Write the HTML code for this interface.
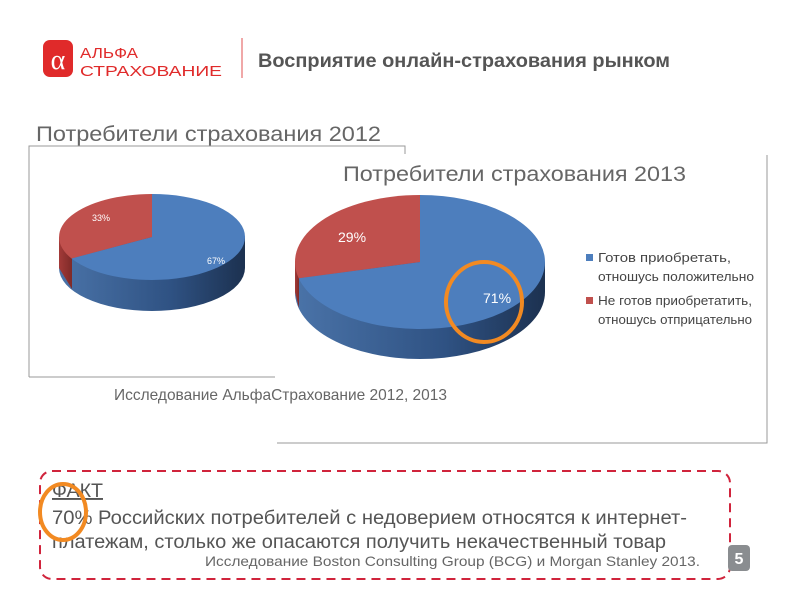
<!DOCTYPE html>
<html><head><meta charset="utf-8"><style>
body{margin:0;background:#fff;}
svg{display:block;font-family:"Liberation Sans","Noto Sans CJK SC",sans-serif;}
</style></head><body>
<svg width="800" height="600" viewBox="0 0 800 600">
<defs>
<linearGradient id="sb" x1="0" x2="1" y1="0" y2="0">
<stop offset="0" stop-color="#4a73a8"/><stop offset="0.6" stop-color="#2f5283"/><stop offset="1" stop-color="#1c3150"/></linearGradient>
<linearGradient id="sr" x1="0" x2="1"><stop offset="0" stop-color="#a33a38"/><stop offset="1" stop-color="#7e2a28"/></linearGradient>
</defs>
<!-- logo -->
<rect x="43" y="40" width="30" height="37" rx="7" fill="#e02a2a"/>
<text x="58" y="69" font-size="28" fill="#fff" text-anchor="middle" font-family="Liberation Serif,serif">α</text>
<text x="80" y="58" font-size="15" fill="#e02a2a" textLength="58" lengthAdjust="spacingAndGlyphs">АЛЬФА</text>
<text x="80" y="76" font-size="15" fill="#e02a2a" textLength="142" lengthAdjust="spacingAndGlyphs">СТРАХОВАНИЕ</text>
<line x1="242" y1="38" x2="242" y2="78" stroke="#e05050" stroke-width="1"/>
<text x="258" y="67" font-size="19" font-weight="bold" fill="#555" textLength="412" lengthAdjust="spacingAndGlyphs">Восприятие онлайн-страхования рынком</text>

<!-- frames -->
<path d="M29 377 V146 H405 V154" fill="none" stroke="#999" stroke-width="1"/>
<line x1="29" y1="377" x2="275" y2="377" stroke="#999"/>
<path d="M767 155 V443 H277" fill="none" stroke="#999"/>
<text x="36" y="141" font-size="21" fill="#666" textLength="345" lengthAdjust="spacingAndGlyphs">Потребители страхования 2012</text>
<text x="343" y="181" font-size="21" fill="#666" textLength="343" lengthAdjust="spacingAndGlyphs">Потребители страхования 2013</text>

<!-- pie 2012 -->
<path d="M59 237 V268 A93 43 0 0 0 245 268 V237 Z" fill="url(#sb)"/>
<path d="M59 237 V268 L72 289 V258 Z" fill="url(#sr)"/>
<path d="M152 237 L152 194 A93 43 0 1 1 71.5 258.5 Z" fill="#4d7ebd"/>
<path d="M152 237 L71.5 258.5 A93 43 0 0 1 152 194 Z" fill="#c0504d"/>
<text x="92" y="221" font-size="9" fill="#fff">33%</text>
<text x="207" y="264" font-size="9" fill="#fff">67%</text>

<!-- pie 2013 -->
<path d="M295 262 V292 A125 67 0 0 0 545 292 V262 Z" fill="url(#sb)"/>
<path d="M295 262 V292 L299 308 V278 Z" fill="url(#sr)"/>
<path d="M420 262 L420 195 A125 67 0 1 1 298.7 278.2 Z" fill="#4d7ebd"/>
<path d="M420 262 L298.7 278.2 A125 67 0 0 1 420 195 Z" fill="#c0504d"/>
<text x="338" y="242" font-size="14" fill="#fff">29%</text>
<text x="483" y="303" font-size="14" fill="#fff">71%</text>
<ellipse cx="484" cy="302" rx="38" ry="40" fill="none" stroke="#f28a22" stroke-width="4"/>

<!-- legend -->
<rect x="586" y="254" width="7" height="7" fill="#4d7ebd"/>
<text x="598" y="262" font-size="13" fill="#444" textLength="133" lengthAdjust="spacingAndGlyphs">Готов приобретать,</text>
<text x="598" y="281" font-size="13" fill="#444" textLength="156" lengthAdjust="spacingAndGlyphs">отношусь положительно</text>
<rect x="586" y="297" width="7" height="7" fill="#c0504d"/>
<text x="598" y="305" font-size="13" fill="#444" textLength="154" lengthAdjust="spacingAndGlyphs">Не готов приобретатить,</text>
<text x="598" y="324" font-size="13" fill="#444" textLength="154" lengthAdjust="spacingAndGlyphs">отношусь отприцательно</text>

<text x="114" y="400" font-size="16" fill="#666" textLength="333" lengthAdjust="spacingAndGlyphs">Исследование АльфаСтрахование 2012, 2013</text>

<!-- fact box -->
<rect x="40" y="471" width="690" height="108" rx="12" fill="none" stroke="#d0243c" stroke-width="2" stroke-dasharray="9 6"/>
<text x="52" y="497" font-size="19" fill="#555" text-decoration="underline" textLength="51" lengthAdjust="spacingAndGlyphs">ФАКТ</text>
<text x="52" y="524" font-size="19" fill="#555" textLength="635" lengthAdjust="spacingAndGlyphs">70% Российских потребителей  с недоверием относятся к интернет-</text>
<text x="52" y="548" font-size="19" fill="#555" textLength="614" lengthAdjust="spacingAndGlyphs">платежам, столько же опасаются получить некачественный товар</text>
<text x="205" y="566" font-size="14" fill="#666" textLength="495" lengthAdjust="spacingAndGlyphs">Исследование Boston Consulting Group (BCG) и Morgan Stanley 2013.</text>
<ellipse cx="63" cy="512" rx="23" ry="28" fill="none" stroke="#f28a22" stroke-width="4"/>
<rect x="728" y="545" width="22" height="26" rx="4" fill="#8a8d90"/>
<text x="739" y="564" font-size="16" font-weight="bold" fill="#fff" text-anchor="middle">5</text>
</svg>
</body></html>
